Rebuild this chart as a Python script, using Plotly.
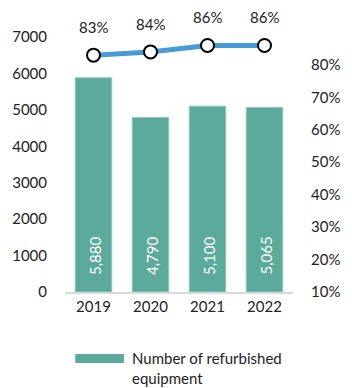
import plotly.graph_objects as go

# Yearly refurbished equipment counts and refurbishment rate
years = ["2019", "2020", "2021", "2022"]
refurbished = [5880, 4790, 5100, 5065]
rate = [0.83, 0.84, 0.86, 0.86]

positions = list(range(len(years)))

bar_color = "#5BAA9C"
line_color = "#4A9BD5"
font_family = "Lato"
text_color = "#222222"

fig = go.Figure()

fig.add_trace(go.Bar(
    x=positions, y=refurbished,
    width=0.64,
    marker=dict(color=bar_color, line=dict(color="#8CC8BC", width=1)),
    showlegend=False,
))

fig.add_trace(go.Scatter(
    x=positions, y=rate, yaxis="y2",
    mode="lines+markers",
    line=dict(color=line_color, width=5),
    marker=dict(size=13, color="white", line=dict(color="black", width=2)),
    showlegend=False,
    cliponaxis=False,
))

# Vertical value labels at the base of each bar
for p, v in zip(positions, refurbished):
    fig.add_annotation(
        x=p, y=0, xref="x", yref="y",
        text=f"{v:,}", showarrow=False, textangle=-90,
        xanchor="center", yanchor="bottom", yshift=15, xshift=1,
        font=dict(size=15, color="white", family=font_family),
    )

# Percentage labels above each point of the rate line
for p, r in zip(positions, rate):
    fig.add_annotation(
        x=p, y=r, xref="x", yref="y2",
        text=f"{r:.0%}", showarrow=False, yshift=28,
        font=dict(size=15, color=text_color, family=font_family),
    )

# Legend: wide swatch with a two-line caption below the plot
fig.add_shape(
    type="rect", xref="paper", yref="paper",
    x0=0.045, x1=0.259, y0=-0.278, y1=-0.243,
    fillcolor=bar_color, line=dict(width=0),
)
fig.add_annotation(
    xref="paper", yref="paper", x=0.284, y=-0.215,
    xanchor="left", yanchor="top", align="left",
    text="Number of refurbished<br>equipment", showarrow=False,
    font=dict(size=15, color=text_color, family=font_family),
)

fig.update_layout(
    width=352, height=388,
    margin=dict(l=63, r=46, t=37, b=96),
    paper_bgcolor="white", plot_bgcolor="white",
    font=dict(family=font_family, size=15, color=text_color),
    xaxis=dict(
        range=[-0.5, len(years) - 0.5],
        tickvals=positions, ticktext=years,
        showline=True, linecolor="#D9D9D9", linewidth=2,
        showgrid=False, zeroline=False, ticks="", tickfont=dict(size=15),
    ),
    yaxis=dict(
        range=[0, 7000], dtick=1000, tickformat="d",
        showgrid=False, zeroline=False, showline=False,
        ticks="outside", ticklen=14, tickcolor="rgba(0,0,0,0)",
        tickfont=dict(size=15),
    ),
    yaxis2=dict(
        overlaying="y", side="right",
        range=[0.1, 0.886], tick0=0.1, dtick=0.1, tickformat=".0%",
        showgrid=False, zeroline=False, showline=False,
        ticks="outside", ticklen=14, tickcolor="rgba(0,0,0,0)",
        tickfont=dict(size=15),
    ),
)

fig.write_html("out.html")
